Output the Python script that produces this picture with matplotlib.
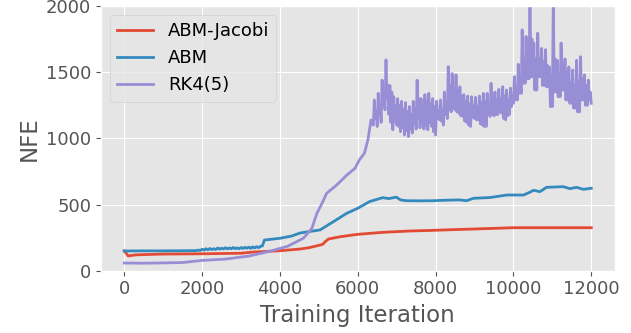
import matplotlib
matplotlib.use('Agg')
import matplotlib.pyplot as plt

plt.style.use('ggplot')

# ABM-Jacobi
jacobi_iter = [0, 100, 300, 1000, 2000, 3000, 3300, 4000, 4517, 4750, 5030, 5100, 5160,
               5250, 5550, 6000, 6640, 7320, 7930, 8620, 8970, 10000, 11110, 12000]
jacobi_nfe = [150, 112, 120, 126, 128, 132, 141, 151, 164, 174, 194, 200, 219,
              240, 257, 275, 290, 300, 305, 312, 315, 325, 325, 325]

# ABM
abm_iter = [0, 500, 1000, 1500, 1850, 1900, 1950, 2000, 2050, 2100, 2150, 2200, 2250,
            2300, 2350, 2400, 2450, 2500, 2550, 2600, 2650, 2700, 2750, 2800, 2850,
            2900, 2950, 3000, 3050, 3100, 3150, 3200, 3250, 3300, 3350, 3400, 3450,
            3500, 3550, 3600, 4000, 4300, 4517,
            4800, 5030, 5370, 5717, 6000, 6300, 6640, 6800, 6990, 7100, 7240, 7600, 7930,
            8300, 8620, 8800, 8970, 9400, 9830, 10260, 10400, 10520, 10680, 10850, 11280,
            11450, 11620, 11800, 12000]
abm_nfe = [149, 150, 150, 151, 152, 156, 153, 162, 156, 166, 158, 168, 160,
           166, 160, 172, 163, 170, 164, 174, 165, 172, 166, 176, 167,
           172, 166, 175, 168, 177, 170, 178, 169, 180, 172, 182, 174,
           184, 188, 232, 245, 262, 285,
           298, 308, 370, 434, 472, 522, 552, 545, 556, 535, 529, 528, 529,
           533, 535, 529, 547, 553, 572, 572, 590, 608, 597, 630, 635,
           620, 630, 615, 623]

# RK4(5): smooth rise up to 6340, then the noisy part every 25 iterations
rk_iter_rise = [0, 500, 1000, 1500, 2000, 2600, 3200, 3700, 4200, 4600, 4750, 4820, 4950,
                5080, 5200, 5460, 5720, 5930, 6040, 6170, 6260, 6340]
rk_nfe_rise = [58, 57, 59, 62, 78, 88, 111, 144, 185, 245, 295, 320, 434,
               509, 585, 648, 723, 774, 837, 887, 988, 1139]
rk_iter_noisy = list(range(6400, 12001, 25))
rk_nfe_noisy = [
    1100, 1290, 1150, 1200,  1090, 1340, 1180, 1250,  1120, 1440, 1260, 1300,
    1215, 1593, 1300, 1400,  1180, 1400, 1120, 1350,  1065, 1315, 1130, 1250,
    1100, 1300, 1090, 1250,  1050, 1280, 1080, 1220,  1025, 1270, 1060, 1200,
    1013, 1240, 1070, 1180,  1040, 1280, 1110, 1220,  1070, 1440, 1150, 1300,
    1080, 1300, 1120, 1250,  1070, 1330, 1100, 1280,  1065, 1340, 1120, 1260,
    1090, 1300, 1050, 1240,  1025, 1280, 1150, 1200,  1140, 1290, 1130, 1220,
    1100, 1350, 1180, 1280,  1150, 1542, 1220, 1400,  1200, 1490, 1230, 1380,
    1215, 1480, 1200, 1360,  1190, 1390, 1170, 1320,  1165, 1330, 1130, 1280,
    1120, 1320, 1100, 1260,  1090, 1315, 1160, 1250,  1150, 1310, 1140, 1240,
    1140, 1320, 1110, 1270,  1100, 1340, 1090, 1280,  1090, 1340, 1180, 1260,
    1165, 1416, 1190, 1330,  1170, 1350, 1180, 1290,  1180, 1370, 1200, 1300,
    1190, 1390, 1150, 1320,  1140, 1365, 1170, 1290,  1180, 1380, 1240, 1300,
    1265, 1466, 1290, 1380,  1290, 1560, 1340, 1450,  1340, 1819, 1416, 1600,
    1416, 1770, 1450, 1600,  1450, 2060, 1466, 1750,  1466, 1720, 1365, 1600,
    1365, 1795, 1466, 1600,  1466, 1680, 1400, 1580,  1400, 1670, 1390, 1550,
    1390, 1540, 1240, 1480,  1240, 2060, 1350, 1600,  1350, 1590, 1315, 1480,
    1315, 1720, 1365, 1550,  1365, 1600, 1290, 1500,  1290, 1540, 1265, 1420,
    1265, 1517, 1228, 1400,  1228, 1590, 1200, 1420,  1200, 1617, 1290, 1450,
    1290, 1480, 1250, 1400,  1250, 1440, 1290, 1350,  1265]
rk_iter = rk_iter_rise + rk_iter_noisy
rk_nfe = rk_nfe_rise + rk_nfe_noisy

fig, ax = plt.subplots(figsize=(6.31, 3.33), dpi=100)
fig.subplots_adjust(left=0.160, right=0.974, top=0.982, bottom=0.187)

ax.plot(jacobi_iter, jacobi_nfe, label='ABM-Jacobi', lw=2)
ax.plot(abm_iter, abm_nfe, label='ABM', lw=2)
ax.plot(rk_iter, rk_nfe, label='RK4(5)', lw=2)

ax.set_ylim(0, 2000)
ax.set_xticks([0, 2000, 4000, 6000, 8000, 10000, 12000])
ax.set_yticks([0, 500, 1000, 1500, 2000])
ax.tick_params(labelsize=13)
ax.set_xlabel('Training Iteration', fontsize=16.5)
ax.set_ylabel('NFE', fontsize=16.5)
ax.legend(loc='upper left', fontsize=13)

fig.savefig('out.png', dpi=100)
